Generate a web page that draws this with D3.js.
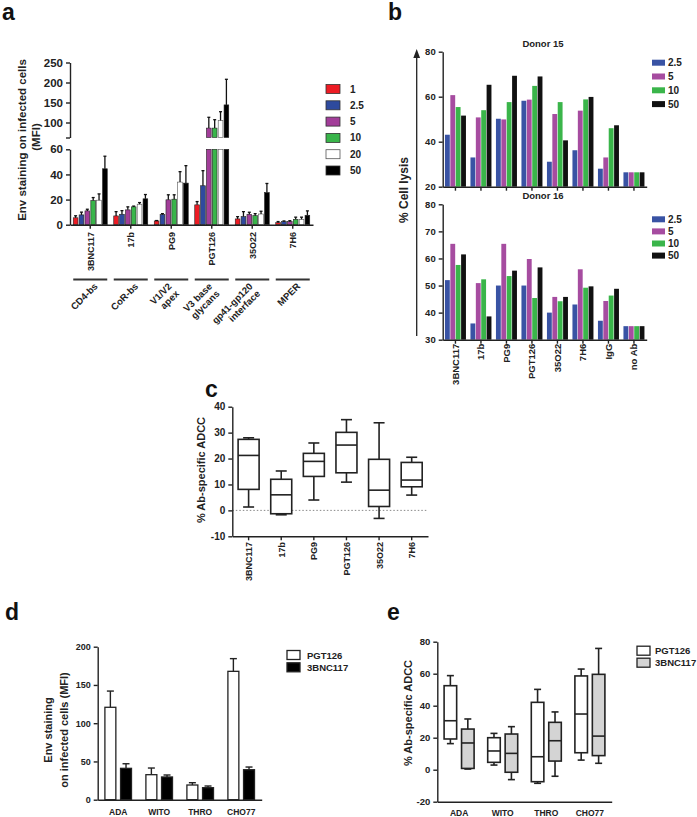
<!DOCTYPE html>
<html>
<head>
<meta charset="utf-8">
<script src="https://d3js.org/d3.v7.min.js"></script>
<title>Env staining and ADCC</title>
<style>
  body { margin: 0; background: #fff; }
  svg { display: block; }
</style>
</head>
<body>
<script>
var FONT = '"Liberation Sans", Arial, sans-serif';

// ---------- panel a data ----------
var aAntibodies = ["3BNC117", "17b", "PG9", "PGT126", "35O22", "7H6"];
var aSites = [["CD4-bs"], ["CoR-bs"], ["V1/V2", "apex"], ["V3 base", "glycans"], ["gp41-gp120", "interface"], ["MPER"]];
var aConc = ["1", "2.5", "5", "10", "20", "50"];
var aMean = [
  [5.5, 7.8, 11, 19.2, 19.5, 44.5],
  [7, 8.3, 11.8, 14.2, 16.3, 20.6],
  [3, 8, 19.8, 20.3, 33.9, 33.1],
  [15.8, 31, 86, 86, 105, 144],
  [4.6, 6.4, 8.3, 7.2, 8.5, 25.6],
  [1.6, 2.4, 2.4, 4.3, 4.3, 7.5]
];
var aSem = [
  [1.6, 2.2, 1.3, 2.4, 5, 10],
  [3.4, 2.9, 2.4, 0.6, 1.3, 3.4],
  [0.3, 0.8, 4, 3.5, 8.3, 13.9],
  [2.6, 12, 27, 21, 22, 64],
  [1.8, 4, 1.6, 1.6, 2.2, 7.2],
  [0.9, 0.6, 0.8, 1.7, 1.7, 3.5]
];
var aColors = ["#ed1c24", "#2e4a9e", "#a23d99", "#39b54a", "#ffffff", "#000000"];

// ---------- panel b data ----------
var bAntibodies = ["3BNC117", "17b", "PG9", "PGT126", "35O22", "7H6", "IgG", "no Ab"];
var bConc = ["2.5", "5", "10", "50"];
var bDonor15 = [
  [43.1, 60.7, 55.4, 51.6],
  [33, 50.8, 54, 65.3],
  [50.2, 49.9, 57.6, 69.3],
  [58.2, 58.7, 64.8, 69],
  [31.1, 52.3, 57.6, 40.6],
  [36.2, 53.8, 58.8, 59.9],
  [28, 33, 46, 47.3],
  [26.4, 26.4, 26.4, 26.4]
];
var bDonor16 = [
  [52, 65.4, 57.6, 61.5],
  [36, 50.9, 52.3, 38.6],
  [50, 65.4, 53.5, 55.5],
  [50, 59.8, 45.4, 56.7],
  [40, 45.8, 44.2, 45.8],
  [43, 56, 49.2, 49.7],
  [37, 44.3, 46.3, 48.8],
  [35, 35, 35, 35]
];
var bColors = ["#3953a4", "#a64ca0", "#3ab54a", "#111111"];

// ---------- panel c data: [min, q1, median, q3, max] ----------
var cAntibodies = ["3BNC117", "17b", "PG9", "PGT126", "35O22", "7H6"];
var cBoxes = [
  [1.3, 8.1, 21.2, 27.4, 28],
  [-1.7, -1.3, 6, 12, 15.2],
  [4, 13.1, 18.9, 22, 26],
  [10.9, 14.5, 25.2, 30.1, 35],
  [-3.1, 1.5, 7.8, 19.7, 33.8],
  [5.9, 9.1, 11.7, 18.5, 20.5]
];

// ---------- panel d data ----------
var dViruses = ["ADA", "WITO", "THRO", "CHO77"];
var dSeries = ["PGT126", "3BNC117"];
var dMean = [[120.8, 41], [32.7, 29.7], [19.2, 15.7], [167.8, 39.2]];
var dSem = [[21.2, 6], [8.7, 2.6], [3, 2.2], [16.6, 3.5]];
var dColors = ["#ffffff", "#000000"];

// ---------- panel e data: [min, q1, median, q3, max] ----------
var eViruses = ["ADA", "WITO", "THRO", "CHO77"];
var eSeries = ["PGT126", "3BNC117"];
var eBoxes = [
  [[16.3, 19.2, 30.6, 52.5, 58.8], [0.4, 0.8, 16.7, 25.4, 31.7]],
  [[2.9, 4.6, 11.7, 20, 22.7], [-6.2, -1.6, 10.2, 22.3, 26.9]],
  [[-8.5, -7.5, 8.1, 42.1, 50.2], [-4.1, 5.4, 18.1, 29.6, 36.1]],
  [[6, 10.6, 34.8, 58.6, 62.9], [4, 8.8, 21, 59.6, 75.8]]
];
var eColors = ["#ffffff", "#d4d4d4"];

var svg = d3.select("body").append("svg")
    .attr("width", 697).attr("height", 817)
    .attr("font-family", FONT).attr("font-weight", "bold");

var plain = function(v) { return String(v); };  // hyphen minus like the original

function styleAxis(g, fs) {
  g.attr("font-family", FONT).attr("font-size", fs).attr("font-weight", "bold");
  g.select(".domain").attr("stroke", "#222").attr("stroke-width", 1.4);
  g.selectAll(".tick line").attr("stroke", "#222").attr("stroke-width", 1.4);
  g.selectAll(".tick text").attr("fill", "#222");
}

function panelLabel(t, x, y) {
  svg.append("text").attr("x", x).attr("y", y).attr("font-size", 23)
     .attr("fill", "#111").text(t);
}

function vText(t, x, y, fs, anchor) {
  return svg.append("text")
    .attr("transform", "translate(" + x + "," + y + ") rotate(-90)")
    .attr("text-anchor", anchor || "middle")
    .attr("font-size", fs).attr("fill", "#222").text(t);
}

// ================= panel a =================
panelLabel("a", 2, 20);
var ax = d3.scaleBand().domain(aAntibodies).range([70, 313]);
var aIn = d3.scaleBand().domain(aConc).range([-17, 17]).paddingInner(0.2);
var ayLo = d3.scaleLinear().domain([0, 60]).range([224.7, 149.3]);
var ayHi = d3.scaleLinear().domain([62.5, 250]).range([137.5, 62.5]);
function ayv(v) { return v <= 60 ? ayLo(v) : ayHi(v); }

var aRecs = [];
aAntibodies.forEach(function(ab, i) {
  aConc.forEach(function(c, j) {
    aRecs.push({ ab: ab, c: c, j: j, v: aMean[i][j], e: aSem[i][j] });
  });
});
function aX(d) { return ax(d.ab) + ax.bandwidth() / 2 + aIn(d.c); }

var aBars = svg.append("g");
aRecs.forEach(function(d) {
  var col = aColors[d.j];
  var st = d.j === 4 ? "#555" : "#222";
  if (d.v <= 60) {
    aBars.append("rect").attr("x", aX(d)).attr("width", aIn.bandwidth())
      .attr("y", ayLo(d.v)).attr("height", ayLo(0) - ayLo(d.v))
      .attr("fill", col).attr("stroke", st).attr("stroke-width", 0.6);
  } else {
    aBars.append("rect").attr("x", aX(d)).attr("width", aIn.bandwidth())
      .attr("y", ayLo(60)).attr("height", ayLo(0) - ayLo(60))
      .attr("fill", col).attr("stroke", st).attr("stroke-width", 0.6);
    aBars.append("rect").attr("x", aX(d)).attr("width", aIn.bandwidth())
      .attr("y", ayHi(d.v)).attr("height", ayHi(62.5) - ayHi(d.v))
      .attr("fill", col).attr("stroke", st).attr("stroke-width", 0.6);
  }
  var cx = aX(d) + aIn.bandwidth() / 2;
  aBars.append("line").attr("x1", cx).attr("x2", cx)
    .attr("y1", ayv(d.v)).attr("y2", ayv(d.v + d.e))
    .attr("stroke", "#111").attr("stroke-width", 1.3);
  aBars.append("line").attr("x1", cx - 1.5).attr("x2", cx + 1.5)
    .attr("y1", ayv(d.v + d.e)).attr("y2", ayv(d.v + d.e))
    .attr("stroke", "#111").attr("stroke-width", 1.3);
});

svg.append("g").attr("transform", "translate(70,0)")
  .call(d3.axisLeft(ayLo).tickValues([0, 20, 40, 60]).tickSize(4).tickSizeOuter(0))
  .call(styleAxis, 11.5);
svg.append("g").attr("transform", "translate(70,0)")
  .call(d3.axisLeft(ayHi).tickValues([62.5, 100, 150, 200, 250]).tickSize(4).tickSizeOuter(0)
    .tickFormat(function(v) { return v === 62.5 ? "" : v; }))
  .call(styleAxis, 11.5);
svg.append("g").attr("transform", "translate(0,224.7)")
  .call(d3.axisBottom(ax).tickSize(4).tickSizeOuter(0).tickFormat(""))
  .call(styleAxis, 9);

aAntibodies.forEach(function(ab, i) {
  var c = ax(ab) + ax.bandwidth() / 2;
  vText(ab, c + 3.5, 232, 9, "end");
  svg.append("line").attr("x1", c - 17).attr("x2", c + 17)
    .attr("y1", 279.5).attr("y2", 279.5).attr("stroke", "#333").attr("stroke-width", 1.8);
  var lines = aSites[i];
  var ox = lines.length === 1 ? c + 8 : c + 1;
  var t = svg.append("text")
    .attr("transform", "translate(" + ox + ",287) rotate(-45)")
    .attr("text-anchor", "end").attr("font-size", 9.5).attr("fill", "#222");
  lines.forEach(function(l, k) {
    t.append("tspan").attr("x", 0).attr("dy", k === 0 ? 0 : "1.1em").text(l);
  });
});

vText("Env staining on infected cells", 26, 140, 11.5);
vText("(MFI)", 40, 137, 11.5);

var aLeg = svg.append("g");
aConc.forEach(function(c, j) {
  var y = 89 + j * 16.3;
  aLeg.append("rect").attr("x", 326).attr("y", y - 4.5).attr("width", 14).attr("height", 9)
    .attr("fill", aColors[j]).attr("stroke", j === 4 ? "#555" : "#333").attr("stroke-width", 0.8);
  aLeg.append("text").attr("x", 350).attr("y", y + 3.5).attr("font-size", 10).attr("fill", "#222").text(c);
});

// ================= panel b =================
panelLabel("b", 388, 20);
var bx = d3.scaleBand().domain(bAntibodies).range([442.7, 646.7]);
var bIn = d3.scaleBand().domain(bConc).range([-10.5, 10.5]).paddingInner(0.1);

function donor(title, vals, dom, rng, ticks, labels, legY, legStep) {
  var y = d3.scaleLinear().domain(dom).range(rng);
  var recs = [];
  bAntibodies.forEach(function(ab, i) {
    bConc.forEach(function(c, j) { recs.push({ ab: ab, c: c, j: j, v: vals[i][j] }); });
  });
  svg.append("g").selectAll("rect").data(recs).enter().append("rect")
    .attr("x", function(d) { return bx(d.ab) + bx.bandwidth() / 2 + bIn(d.c); })
    .attr("width", bIn.bandwidth())
    .attr("y", function(d) { return y(d.v); })
    .attr("height", function(d) { return y(dom[0]) - y(d.v); })
    .attr("fill", function(d) { return bColors[d.j]; });
  svg.append("g").attr("transform", "translate(442.7,0)")
    .call(d3.axisLeft(y).tickValues(ticks).tickSize(4).tickSizeOuter(0))
    .call(styleAxis, 9.5);
  svg.append("g").attr("transform", "translate(0," + rng[0] + ")")
    .call(d3.axisBottom(bx).tickSize(4).tickSizeOuter(0).tickFormat(""))
    .call(styleAxis, 9.5);
  svg.append("text").attr("x", 543).attr("y", rng[1] - 5).attr("text-anchor", "middle")
    .attr("font-size", 9.5).attr("fill", "#222").text(title);
  if (labels) {
    bAntibodies.forEach(function(ab) {
      vText(ab, bx(ab) + bx.bandwidth() / 2 + 3.5, rng[0] + 4, 9.5, "end");
    });
  }
  bConc.forEach(function(c, j) {
    var yy = legY + j * legStep;
    svg.append("rect").attr("x", 652).attr("y", yy - 3).attr("width", 13).attr("height", 6)
      .attr("fill", bColors[j]);
    svg.append("text").attr("x", 668).attr("y", yy + 3.5).attr("font-size", 10)
      .attr("fill", "#222").text(c);
  });
}
donor("Donor 15", bDonor15, [20, 80], [186.7, 51.7], [20, 40, 60, 80], false, 62.7, 13.8);
donor("Donor 16", bDonor16, [30, 80], [339.7, 204.3], [30, 40, 50, 60, 70, 80], true, 219.3, 12.1);

svg.append("line").attr("x1", 416.7).attr("x2", 416.7).attr("y1", 336).attr("y2", 56)
  .attr("stroke", "#222").attr("stroke-width", 1.3);
svg.append("path").attr("d", "M416.7,49 L413.3,58 L420.1,58 Z").attr("fill", "#222");
vText("% Cell lysis", 408, 190, 12);

// ================= panel c =================
panelLabel("c", 205, 397);
var cx = d3.scaleBand().domain(cAntibodies).range([232.3, 428]);
var cy = d3.scaleLinear().domain([-10, 40]).range([536.3, 406.7]);

svg.append("line").attr("x1", 232.3).attr("x2", 428).attr("y1", cy(0)).attr("y2", cy(0))
  .attr("stroke", "#888").attr("stroke-width", 1).attr("stroke-dasharray", "1.5,2");

function drawBox(g, xc, w, b, y, fill, capW) {
  g.append("line").attr("x1", xc).attr("x2", xc).attr("y1", y(b[0])).attr("y2", y(b[4]))
    .attr("stroke", "#222").attr("stroke-width", 1.6);
  [b[0], b[4]].forEach(function(v) {
    g.append("line").attr("x1", xc - capW / 2).attr("x2", xc + capW / 2)
      .attr("y1", y(v)).attr("y2", y(v)).attr("stroke", "#222").attr("stroke-width", 1.6);
  });
  g.append("rect").attr("x", xc - w / 2).attr("width", w)
    .attr("y", y(b[3])).attr("height", y(b[1]) - y(b[3]))
    .attr("fill", fill).attr("stroke", "#222").attr("stroke-width", 1.6);
  g.append("line").attr("x1", xc - w / 2).attr("x2", xc + w / 2)
    .attr("y1", y(b[2])).attr("y2", y(b[2])).attr("stroke", "#222").attr("stroke-width", 1.6);
}

var cg = svg.append("g");
cAntibodies.forEach(function(ab, i) {
  drawBox(cg, cx(ab) + cx.bandwidth() / 2, 21, cBoxes[i], cy, "#fff", 11);
});
svg.append("g").attr("transform", "translate(232.3,0)")
  .call(d3.axisLeft(cy).tickValues([-10, 0, 10, 20, 30, 40]).tickSize(4).tickSizeOuter(0).tickFormat(plain))
  .call(styleAxis, 10);
svg.append("g").attr("transform", "translate(0,536.3)")
  .call(d3.axisBottom(cx).tickSize(4).tickSizeOuter(0).tickFormat(""))
  .call(styleAxis, 9);
cAntibodies.forEach(function(ab) {
  vText(ab, cx(ab) + cx.bandwidth() / 2 + 3.5, 542, 9, "end");
});
vText("% Ab-specific ADCC", 205, 470, 11);

// ================= panel d =================
panelLabel("d", 5, 620);
var dx = d3.scaleBand().domain(dViruses).range([97.7, 261.7]);
var dIn = d3.scaleBand().domain(dSeries).range([-13.3, 13.3]).paddingInner(0.3);
var dy = d3.scaleLinear().domain([0, 200]).range([799.7, 646.7]);

var dg = svg.append("g");
dViruses.forEach(function(v, i) {
  dSeries.forEach(function(s, j) {
    var x = dx(v) + dx.bandwidth() / 2 + dIn(s);
    var m = dMean[i][j], e = dSem[i][j];
    var xc = x + dIn.bandwidth() / 2;
    dg.append("line").attr("x1", xc).attr("x2", xc).attr("y1", dy(m)).attr("y2", dy(m + e))
      .attr("stroke", "#222").attr("stroke-width", 1.4);
    dg.append("line").attr("x1", xc - 3.5).attr("x2", xc + 3.5).attr("y1", dy(m + e)).attr("y2", dy(m + e))
      .attr("stroke", "#222").attr("stroke-width", 1.4);
    dg.append("rect").attr("x", x).attr("width", dIn.bandwidth())
      .attr("y", dy(m)).attr("height", dy(0) - dy(m))
      .attr("fill", dColors[j]).attr("stroke", "#222").attr("stroke-width", 1.3);
  });
});
svg.append("g").attr("transform", "translate(97.7,0)")
  .call(d3.axisLeft(dy).tickValues([0, 50, 100, 150, 200]).tickSize(4).tickSizeOuter(0))
  .call(styleAxis, 9);
svg.append("g").attr("transform", "translate(0,799.7)")
  .call(d3.axisBottom(dx).tickSize(0).tickSizeOuter(0).tickPadding(9))
  .call(styleAxis, 8.5);
vText("Env staining", 52, 730, 11);
vText("on infected cells (MFI)", 68, 730, 11);
dSeries.forEach(function(s, j) {
  var yy = 655 + j * 12.3;
  svg.append("rect").attr("x", 287).attr("y", yy - 4.5).attr("width", 13).attr("height", 9)
    .attr("fill", dColors[j]).attr("stroke", "#222").attr("stroke-width", 1.3);
  svg.append("text").attr("x", 307).attr("y", yy + 3.5).attr("font-size", 9.5).attr("fill", "#222").text(s);
});

// ================= panel e =================
panelLabel("e", 387, 620);
var ex = d3.scaleBand().domain(eViruses).range([437.3, 611.7]);
var eIn = d3.scaleBand().domain(eSeries).range([-15, 15]).paddingInner(0.28);
var ey = d3.scaleLinear().domain([-20, 80]).range([801.7, 641.7]);

var eg = svg.append("g");
eViruses.forEach(function(v, i) {
  eSeries.forEach(function(s, j) {
    var xc = ex(v) + ex.bandwidth() / 2 + eIn(s) + eIn.bandwidth() / 2;
    drawBox(eg, xc, eIn.bandwidth(), eBoxes[i][j], ey, eColors[j], 7);
  });
});
svg.append("g").attr("transform", "translate(437.3,0)")
  .call(d3.axisLeft(ey).tickValues([-20, 0, 20, 40, 60, 80]).tickSize(4).tickSizeOuter(0).tickFormat(plain))
  .call(styleAxis, 9.5);
svg.append("g").attr("transform", "translate(0,801.7)")
  .call(d3.axisBottom(ex).tickSize(0).tickSizeOuter(0).tickPadding(8))
  .call(styleAxis, 8.5);
vText("% Ab-specific ADCC", 412, 713, 11);
eSeries.forEach(function(s, j) {
  var yy = 650.7 + j * 12;
  svg.append("rect").attr("x", 637).attr("y", yy - 4.5).attr("width", 13).attr("height", 9)
    .attr("fill", eColors[j]).attr("stroke", "#222").attr("stroke-width", 1.3);
  svg.append("text").attr("x", 655).attr("y", yy + 3.5).attr("font-size", 9.5).attr("fill", "#222").text(s);
});
</script>
</body>
</html>
